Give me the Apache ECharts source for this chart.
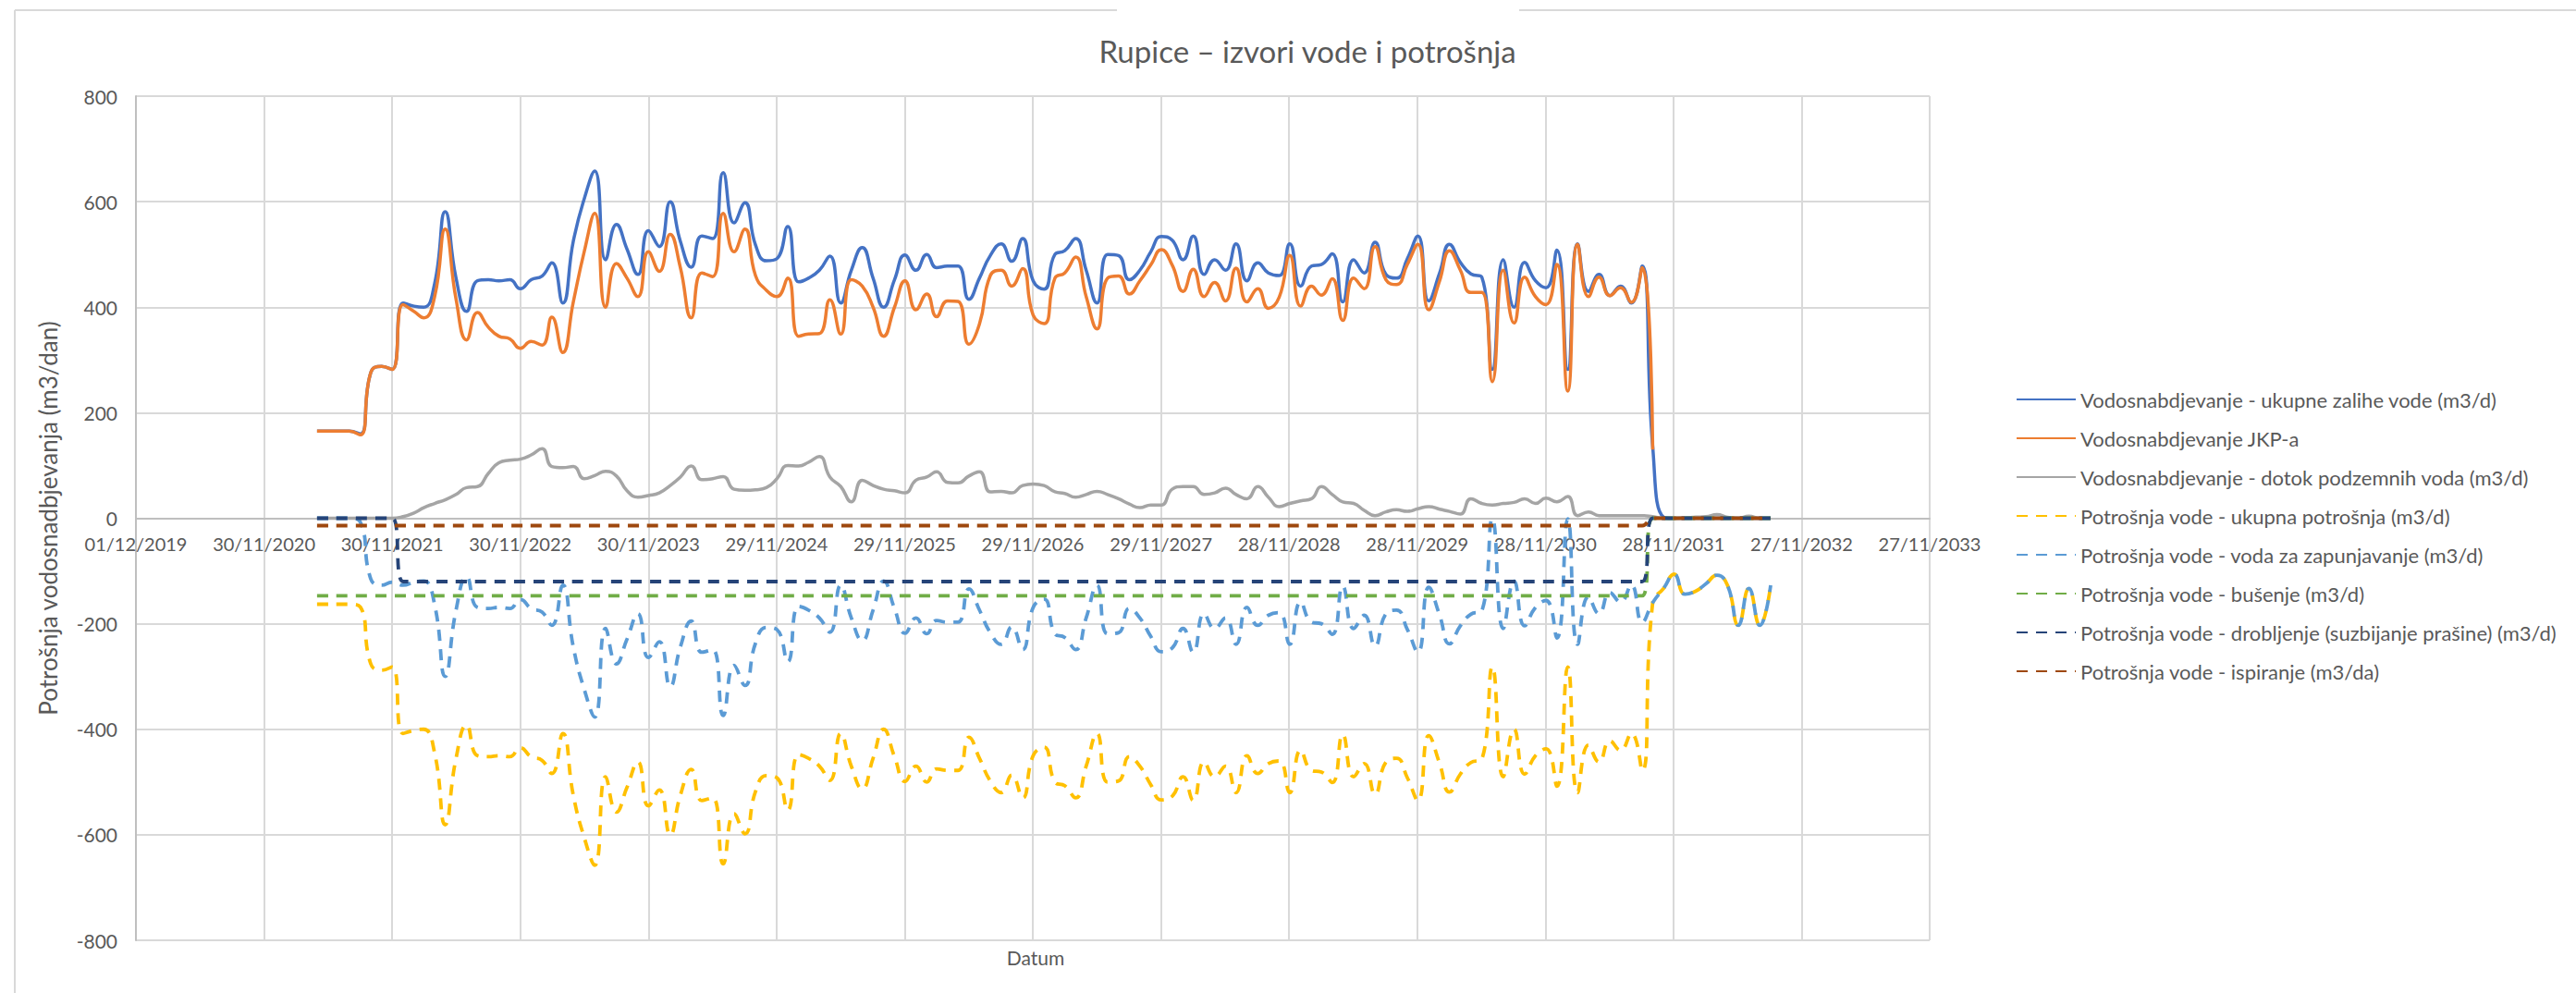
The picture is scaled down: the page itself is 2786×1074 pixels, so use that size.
<!DOCTYPE html>
<html>
<head>
<meta charset="utf-8">
<title>Rupice – izvori vode i potrošnja</title>
<script src="https://cdn.jsdelivr.net/npm/echarts@6/dist/echarts.min.js"></script>
<style>
  html, body { margin: 0; padding: 0; background: #ffffff; }
  #chart { width: 2786px; height: 1074px; }
</style>
</head>
<body>
<div id="chart"></div>
<script>
// Monthly records, month-end dates starting April 2021
const FIRST_YEAR = 2021;
const FIRST_MONTH = 4;
const MONTH_COUNT = 137;

// Supply (m3/d)
const ukupneZalihe = [
  165,165,165,165,160,276,288,282,408,402,
  400,445,581,455,392,450,452,450,452,435,
  452,459,484,408,525,605,658,490,557,510,
  462,545,515,600,525,476,535,530,655,560,
  598,518,488,492,553,448,455,470,497,408,
  470,513,455,400,452,499,470,500,475,478,
  478,415,455,498,520,487,530,450,434,500,
  507,530,470,408,500,498,452,470,505,534,
  527,490,535,462,490,470,520,450,484,465,
  460,520,440,478,481,501,410,490,465,523,
  462,455,492,535,412,465,519,485,463,457,
  282,490,400,485,450,437,508,282,520,430,
  462,422,440,408,478,135,2,0,0,0,
  0,0,0,0,0,0,0
];
const jkp = [
  165,165,165,165,158,276,288,282,405,392,
  380,420,548,415,338,390,362,345,340,322,
  335,328,381,314,410,505,578,400,483,455,
  420,505,468,538,475,380,465,458,578,505,
  548,460,432,420,455,345,349,350,414,349,
  452,440,400,345,400,450,395,425,382,412,
  411,330,368,460,470,440,473,385,369,455,
  465,495,420,359,455,459,425,450,480,509,
  480,430,472,420,447,412,474,410,435,398,
  419,498,402,440,423,454,375,455,435,515,
  452,443,481,519,395,450,507,470,428,428,
  259,470,370,457,420,405,481,241,519,420,
  457,422,437,409,475,130,null,null,null,null,
  null,null,null,null,null,null,null
];
const dotokPodzemnih = [
  0,0,0,0,0,0,0,0,3,10,
  20,28,35,45,58,60,85,105,110,112,
  120,132,98,96,98,75,81,89,80,52,
  40,43,48,62,78,99,73,75,79,55,
  53,54,58,75,100,99,106,117,78,60,
  31,72,62,55,52,48,72,78,88,68,
  67,80,88,50,51,48,62,65,62,50,
  47,40,45,51,45,37,27,20,25,25,
  55,60,60,45,48,57,45,37,60,40,
  22,28,33,37,60,45,31,28,15,5,
  12,16,13,18,22,17,13,8,37,28,
  25,28,30,37,28,38,31,41,5,12,
  5,5,5,5,5,3,0,0,1,2,
  3,7,2,0,4,0,0
];

// Consumption (m3/d)
const ukupnaPotrosnja = [
  -163,-163,-163,-163,-168,-276,-288,-282,-408,-402,
  -400,-445,-581,-455,-392,-450,-452,-450,-452,-435,
  -452,-459,-484,-408,-525,-605,-658,-490,-557,-510,
  -462,-545,-515,-600,-525,-476,-535,-530,-655,-560,
  -598,-518,-488,-492,-553,-448,-455,-470,-497,-408,
  -470,-513,-455,-400,-452,-499,-470,-500,-475,-478,
  -478,-415,-455,-498,-520,-487,-530,-450,-434,-500,
  -507,-530,-470,-408,-500,-498,-452,-470,-505,-534,
  -527,-490,-535,-462,-490,-470,-520,-450,-484,-465,
  -460,-520,-440,-478,-481,-501,-410,-490,-465,-523,
  -462,-455,-492,-535,-412,-465,-519,-485,-463,-457,
  -282,-490,-400,-485,-450,-437,-508,-282,-520,-430,
  -462,-422,-440,-408,-478,-160,-133,-106,-144,-138,
  -124,-108,-127,-203,-133,-203,-127
];
const zapunjavanje = [
  0,0,0,0,-7,-115,-127,-121,-127,-121,
  -119,-164,-300,-174,-111,-169,-171,-169,-171,-154,
  -171,-178,-203,-127,-244,-324,-377,-209,-276,-229,
  -181,-264,-234,-319,-244,-195,-254,-249,-374,-279,
  -317,-237,-207,-211,-272,-167,-174,-189,-216,-127,
  -189,-232,-174,-119,-171,-218,-189,-219,-194,-197,
  -197,-134,-174,-217,-239,-206,-249,-169,-153,-219,
  -226,-249,-189,-127,-219,-217,-171,-189,-224,-253,
  -246,-209,-254,-181,-209,-189,-239,-169,-203,-184,
  -179,-239,-159,-197,-200,-220,-129,-209,-184,-242,
  -181,-174,-211,-254,-131,-184,-238,-204,-182,-176,
  -1,-209,-119,-204,-169,-156,-227,-1,-239,-149,
  -181,-141,-159,-127,-197,-160,-133,-106,-144,-138,
  -124,-108,-127,-203,-133,-203,-127
];
const busenje = [
  -147,-147,-147,-147,-147,-147,-147,-147,-147,-147,
  -147,-147,-147,-147,-147,-147,-147,-147,-147,-147,
  -147,-147,-147,-147,-147,-147,-147,-147,-147,-147,
  -147,-147,-147,-147,-147,-147,-147,-147,-147,-147,
  -147,-147,-147,-147,-147,-147,-147,-147,-147,-147,
  -147,-147,-147,-147,-147,-147,-147,-147,-147,-147,
  -147,-147,-147,-147,-147,-147,-147,-147,-147,-147,
  -147,-147,-147,-147,-147,-147,-147,-147,-147,-147,
  -147,-147,-147,-147,-147,-147,-147,-147,-147,-147,
  -147,-147,-147,-147,-147,-147,-147,-147,-147,-147,
  -147,-147,-147,-147,-147,-147,-147,-147,-147,-147,
  -147,-147,-147,-147,-147,-147,-147,-147,-147,-147,
  -147,-147,-147,-147,-147,0,0,0,0,0,
  0,0,0,0,0,0,0
];
const drobljenje = [
  0,0,0,0,0,0,0,0,-120,-120,
  -120,-120,-120,-120,-120,-120,-120,-120,-120,-120,
  -120,-120,-120,-120,-120,-120,-120,-120,-120,-120,
  -120,-120,-120,-120,-120,-120,-120,-120,-120,-120,
  -120,-120,-120,-120,-120,-120,-120,-120,-120,-120,
  -120,-120,-120,-120,-120,-120,-120,-120,-120,-120,
  -120,-120,-120,-120,-120,-120,-120,-120,-120,-120,
  -120,-120,-120,-120,-120,-120,-120,-120,-120,-120,
  -120,-120,-120,-120,-120,-120,-120,-120,-120,-120,
  -120,-120,-120,-120,-120,-120,-120,-120,-120,-120,
  -120,-120,-120,-120,-120,-120,-120,-120,-120,-120,
  -120,-120,-120,-120,-120,-120,-120,-120,-120,-120,
  -120,-120,-120,-120,-120,0,0,0,0,0,
  0,0,0,0,0,0,0
];
const ispiranje = [
  -14,-14,-14,-14,-14,-14,-14,-14,-14,-14,
  -14,-14,-14,-14,-14,-14,-14,-14,-14,-14,
  -14,-14,-14,-14,-14,-14,-14,-14,-14,-14,
  -14,-14,-14,-14,-14,-14,-14,-14,-14,-14,
  -14,-14,-14,-14,-14,-14,-14,-14,-14,-14,
  -14,-14,-14,-14,-14,-14,-14,-14,-14,-14,
  -14,-14,-14,-14,-14,-14,-14,-14,-14,-14,
  -14,-14,-14,-14,-14,-14,-14,-14,-14,-14,
  -14,-14,-14,-14,-14,-14,-14,-14,-14,-14,
  -14,-14,-14,-14,-14,-14,-14,-14,-14,-14,
  -14,-14,-14,-14,-14,-14,-14,-14,-14,-14,
  -14,-14,-14,-14,-14,-14,-14,-14,-14,-14,
  -14,-14,-14,-14,-14,0,0,0,0,0,
  0,0,0,0,0,0,0
];

// Axis settings
const AXIS_START = Date.UTC(2019, 11, 1);   // 01/12/2019
const DAY = 86400000;
const TICK_DAYS = 365;
const TICK_COUNT = 14;
const Y_TICKS = [-800, -600, -400, -200, 0, 200, 400, 600, 800];

// Month-end dates of the records
const dates = [];
for (let i = 0; i < MONTH_COUNT; i++) {
  const k = FIRST_MONTH - 1 + i;
  const y = FIRST_YEAR + Math.floor(k / 12);
  const mo = k % 12;
  dates.push(new Date(Date.UTC(y, mo + 1, 0)).toISOString().slice(0, 10));
}
const dayOffset = d => (Date.parse(d + 'T00:00:00Z') - AXIS_START) / DAY;
const pad = n => (n < 10 ? '0' : '') + n;
const fmtDate = days => {
  const t = new Date(AXIS_START + Math.round(days) * DAY);
  return pad(t.getUTCDate()) + '/' + pad(t.getUTCMonth() + 1) + '/' + t.getUTCFullYear();
};
const pairs = vals => dates.map((d, i) => [dayOffset(d), vals[i]]);

const seriesDefs = [
  { name: 'Vodosnabdjevanje - ukupne zalihe vode (m3/d)', data: ukupneZalihe, color: '#4472C4', dash: null },
  { name: 'Vodosnabdjevanje JKP-a', data: jkp, color: '#ED7D31', dash: null },
  { name: 'Vodosnabdjevanje - dotok podzemnih voda (m3/d)', data: dotokPodzemnih, color: '#A5A5A5', dash: null },
  { name: 'Potrošnja vode - ukupna potrošnja (m3/d)', data: ukupnaPotrosnja, color: '#FFC000', dash: [12, 9] },
  { name: 'Potrošnja vode - voda za zapunjavanje (m3/d)', data: zapunjavanje, color: '#5B9BD5', dash: [12, 9] },
  { name: 'Potrošnja vode - bušenje (m3/d)', data: busenje, color: '#70AD47', dash: [12, 9] },
  { name: 'Potrošnja vode - drobljenje (suzbijanje prašine) (m3/d)', data: drobljenje, color: '#264478', dash: [12, 9] },
  { name: 'Potrošnja vode - ispiranje (m3/da)', data: ispiranje, color: '#9E480E', dash: [12, 9] }
];

const FONT = 'Lato, "Open Sans", sans-serif';
const TEXT = '#595959';
const GRID = '#d9d9d9';

// plot box
const PLOT = { left: 147, right: 699, top: 104, bottom: 57 };
const PLOT_H = 1074 - PLOT.top - PLOT.bottom;
// the date axis sits on the zero line, half way down the value range
const ZERO_SHIFT = -PLOT_H * (0 - Y_TICKS[0]) / (Y_TICKS[Y_TICKS.length - 1] - Y_TICKS[0]);

const chart = echarts.init(document.getElementById('chart'), null, { renderer: 'svg' });

chart.setOption({
  animation: false,
  backgroundColor: '#ffffff',
  textStyle: { fontFamily: FONT, color: TEXT },
  graphic: [
    { type: 'line', shape: { x1: 16, y1: 11, x2: 16, y2: 1074 }, style: { stroke: '#d9d9d9', lineWidth: 2 } },
    { type: 'line', shape: { x1: 16, y1: 11, x2: 1208, y2: 11 }, style: { stroke: '#d9d9d9', lineWidth: 2 } },
    { type: 'line', shape: { x1: 1643, y1: 11, x2: 2786, y2: 11 }, style: { stroke: '#d9d9d9', lineWidth: 2 } },
    { type: 'text', x: 1414, y: 55, style: { text: 'Rupice – izvori vode i potrošnja', fill: TEXT, font: '33px ' + FONT, align: 'center', verticalAlign: 'middle' } },
    { type: 'text', x: 1120, y: 1035, style: { text: 'Datum', fill: TEXT, font: '21px ' + FONT, align: 'center', verticalAlign: 'middle' } }
  ],
  grid: { left: PLOT.left, right: PLOT.right, top: PLOT.top, bottom: PLOT.bottom, containLabel: false, outerBoundsMode: 'none' },
  legend: {
    orient: 'vertical',
    left: 2180,
    top: 419,
    padding: 0,
    itemWidth: 64,
    itemHeight: 14,
    itemGap: 16,
    itemStyle: { color: 'rgba(0,0,0,0)', borderColor: 'rgba(0,0,0,0)', borderWidth: 0 },
    lineStyle: { opacity: 1 },
    textStyle: { fontFamily: FONT, fontSize: 22, color: TEXT, lineHeight: 26 },
    data: seriesDefs.map(s => s.name)
  },
  xAxis: {
    type: 'value',
    min: 0,
    max: TICK_DAYS * TICK_COUNT,
    interval: TICK_DAYS,
    offset: ZERO_SHIFT,
    axisLine: { onZero: false, lineStyle: { color: '#bfbfbf', width: 2 } },
    axisTick: { show: false },
    axisLabel: { formatter: v => fmtDate(v), fontSize: 20, color: TEXT, margin: 17, fontFamily: FONT, showMaxLabel: true, showMinLabel: true },
    splitLine: { show: true, lineStyle: { color: GRID, width: 2 } }
  },
  yAxis: {
    type: 'value',
    min: Y_TICKS[0],
    max: Y_TICKS[Y_TICKS.length - 1],
    interval: Y_TICKS[1] - Y_TICKS[0],
    name: 'Potrošnja vodosnadbjevanja (m3/dan)',
    nameLocation: 'middle',
    nameGap: 82,
    nameRotate: 90,
    nameTextStyle: { fontSize: 26, color: TEXT, fontFamily: FONT },
    axisLine: { show: true, onZero: false, lineStyle: { color: '#bfbfbf', width: 2 } },
    axisTick: { show: false },
    axisLabel: { fontSize: 21, color: TEXT, margin: 20, fontFamily: FONT },
    splitLine: { show: true, lineStyle: { color: GRID, width: 2 } }
  },
  series: seriesDefs.map(s => ({
    name: s.name,
    type: 'line',
    data: pairs(s.data),
    smooth: 0.5,
    symbol: 'none',
    showSymbol: false,
    connectNulls: false,
    color: s.color,
    lineStyle: { color: s.color, width: s.dash ? 3.8 : 3.5, type: s.dash ? s.dash : 'solid', cap: 'butt' },
    emphasis: { disabled: true }
  }))
});
</script>
</body>
</html>
